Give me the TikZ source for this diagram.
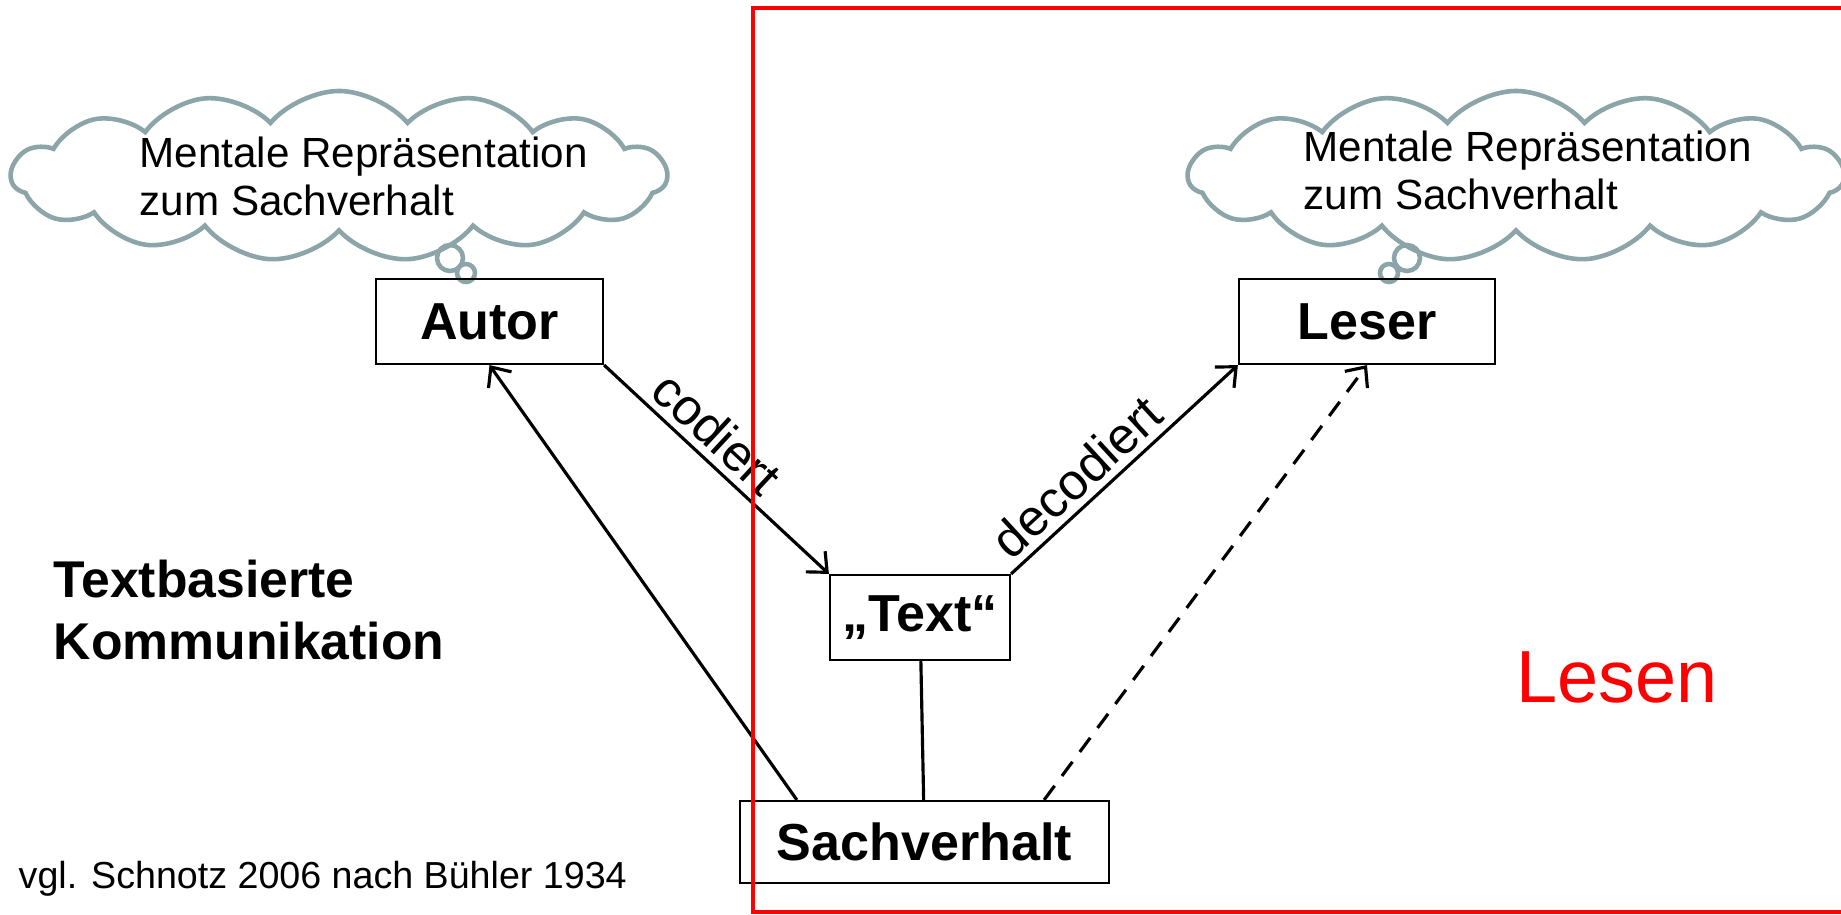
\documentclass[tikz,border=0pt]{standalone}
\usepackage{fontspec}
\setmainfont{Liberation Sans}
\usetikzlibrary{shapes.symbols,arrows.meta}
\definecolor{cloudgray}{RGB}{140,165,168}

\begin{document}
\begin{tikzpicture}[x=0.01cm,y=-0.01cm,
  box/.style={draw,line width=0.6pt,minimum height=0.85cm,inner sep=0pt,
    font=\fontsize{14.8}{17}\selectfont\bfseries},
  thought/.style={draw=cloudgray,line width=1.3pt},
  wolke/.style={thought,cloud,cloud puffs=15,cloud puff arc=100,
    cloud ignores aspect,minimum width=6.55cm,minimum height=1.70cm},
  link/.style={line width=0.9pt,-{Straight Barb[length=4.5pt,width=8pt]}},
  lab/.style={font=\fontsize{14.5}{17}\selectfont,sloped,above,inner sep=2pt},
  gedanke/.style={align=left,anchor=west,inner sep=0pt,
    font=\fontsize{12}{13.7}\selectfont}]

\useasboundingbox (0,0) rectangle (1841,914);

% gedankenwolken
\node[wolke] (wolkeA) at (339,176) {};
\node[wolke] (wolkeL) at (1516,176) {};
\draw[thought] (450,258) circle (13);
\draw[thought] (466,273) circle (9);
\draw[thought] (1407,258) circle (13);
\draw[thought] (1389,273) circle (9);
\node[gedanke] (repA) at (139,176) {Mentale Repräsentation\\zum Sachverhalt};
\node[gedanke] (repL) at (1303,170) {Mentale Repräsentation\\zum Sachverhalt};

% kaesten
\node[box,minimum width=2.27cm] (autor) at (489.5,321.5) {Autor};
\node[box,minimum width=2.56cm] (leser) at (1367,321.5) {Leser};
\node[box,minimum width=1.80cm] (text) at (920,617.5) {„Text“};
\node[box,minimum width=3.69cm,minimum height=0.82cm] (sach) at (924.5,842) {Sachverhalt};

% pfeile
\draw[link] (autor.south east) -- node[lab,pos=0.42] {codiert} (text.north west);
\draw[link] (text.north east) -- node[lab,pos=0.37] {decodiert} (leser.south west);
\draw[link] ([xshift=5.8mm]sach.north west) -- (autor.south);
\draw[line width=0.9pt] (text) -- (sach);
\draw[link,dash pattern=on 5pt off 3.5pt] ([xshift=-6.6mm]sach.north east) -- (leser.south);

% beschriftung
\node[align=left,anchor=west,inner sep=0pt,font=\fontsize{14.7}{17.7}\selectfont\bfseries]
  (titel) at (53,610) {Textbasierte\\Kommunikation};
\node[anchor=base west,inner sep=0pt,font=\fontsize{10.7}{12}\selectfont]
  (quelle) at (18,888) {vgl. Schnotz 2006 nach Bühler 1934};
\node[anchor=base,inner sep=0pt,text=red,font=\fontsize{21}{24}\selectfont]
  (lesen) at (1617,702) {Lesen};

% rahmen
\draw[red,line width=1.4pt] (753,8) rectangle (1880,912);

\end{tikzpicture}
\end{document}
